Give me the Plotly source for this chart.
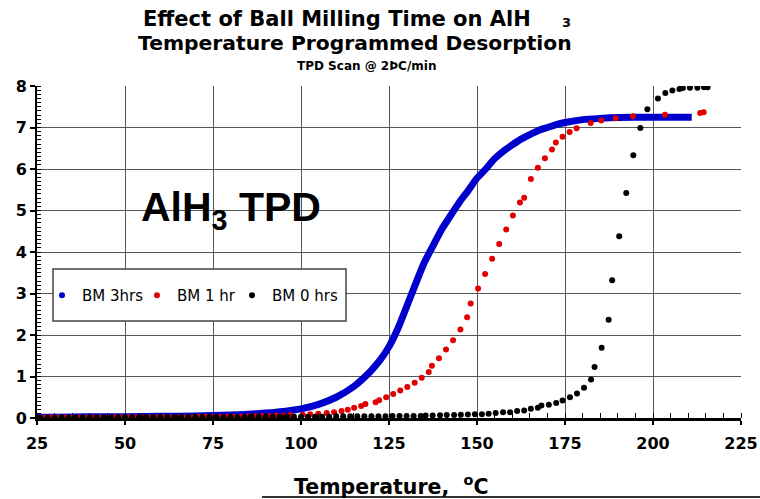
import plotly.graph_objects as go

# ---------------- data ----------------
blue_t = [25, 30, 40, 50, 60, 70, 80, 85, 90, 95, 100, 105, 110, 115, 118, 120, 122.5,
          125, 127.5, 130, 132.5, 135, 137.5, 140, 142.5, 145, 147.5, 150, 152.5, 155,
          157.5, 160, 162.5, 165, 167.5, 170, 172.5, 175, 180, 185, 190, 200, 211]
blue_v = [0.02, 0.02, 0.03, 0.03, 0.04, 0.05, 0.07, 0.09, 0.12, 0.16, 0.22, 0.33, 0.50,
          0.76, 0.98, 1.15, 1.40, 1.72, 2.15, 2.68, 3.22, 3.74, 4.15, 4.55, 4.88, 5.20,
          5.48, 5.78, 6.00, 6.25, 6.43, 6.58, 6.72, 6.83, 6.93, 7.00, 7.07, 7.12, 7.19,
          7.22, 7.24, 7.25, 7.25]

red_t = [27, 29, 31, 33, 35, 37, 39, 41, 43, 45, 47, 49, 51, 53, 55, 57, 59, 61, 63, 65,
         67, 69, 71, 73, 75, 77, 79, 81, 83, 85, 87, 89, 91, 93, 95, 97,
         100.5, 102.6, 104.9, 107.3, 109.4, 111.5, 113.3, 115.1, 117.1, 118.3, 121.2,
         122.2, 124.2, 126.2, 128.2, 130.2, 132.3, 134.3, 136.3, 137.2, 139.2, 141.2,
         143.2, 145.3, 147.2, 148.2, 150.3, 152.3, 154.3, 156.3, 158.3, 160.2, 162.2,
         163.4, 165.3, 167.3, 169.3, 171.3, 172.4, 174.3, 176.3, 178.3, 182.3, 185.3,
         189.4, 194.3, 203.4, 213.4, 214.4]
red_v = [0.01, 0.01, 0.01, 0.01, 0.01, 0.01, 0.01, 0.01, 0.01, 0.01, 0.02, 0.02, 0.02,
         0.02, 0.02, 0.02, 0.02, 0.02, 0.02, 0.02, 0.02, 0.02, 0.03, 0.03, 0.03, 0.03,
         0.03, 0.03, 0.03, 0.04, 0.04, 0.05, 0.05, 0.06, 0.06, 0.07,
         0.08, 0.09, 0.10, 0.12, 0.14, 0.17, 0.20, 0.25, 0.29, 0.34, 0.38,
         0.43, 0.50, 0.58, 0.66, 0.745, 0.85, 0.97, 1.11, 1.26, 1.44, 1.65,
         1.875, 2.13, 2.43, 2.76, 3.12, 3.47, 3.84, 4.19, 4.54, 4.88, 5.19,
         5.31, 5.76, 6.03, 6.26, 6.47, 6.64, 6.78, 6.89, 6.98, 7.11, 7.17,
         7.22, 7.27, 7.31, 7.35, 7.37]

black_t = [26, 28, 30, 32, 34, 36, 38, 40, 42, 44, 46, 48, 50, 52, 54, 56, 58,
           60, 62, 64, 66, 68, 70, 72, 74, 76, 78, 80, 82, 84, 86, 88, 90, 92, 94, 96, 98,
           100, 102, 104, 106, 108, 110, 112, 114, 116, 118, 120, 122, 124, 126, 128, 130,
           132, 134, 135.4, 137.4, 139.5, 141.4, 143.5, 145.4, 147.4, 149.4, 151.4, 153.3,
           155.3, 157.4, 159.4, 161.4, 163.4, 165.3, 167.3, 168.3, 170.4, 172.5, 174.3,
           176.4, 178.4, 180.4, 182.4, 183.4, 185.4, 187.4, 188.4, 190.4, 192.4, 194.4,
           196.4, 198.4, 201.4, 203.5, 205.5, 207.5, 208.5, 210.5, 212.6, 214.5, 215.5]
black_v = [0.00, 0.00, 0.00, 0.01, 0.00, 0.01, 0.01, 0.01, 0.01, 0.01, 0.01, 0.01, 0.01,
           0.01, 0.01, 0.02, 0.02,
           0.02, 0.02, 0.02, 0.02, 0.02, 0.02, 0.02, 0.02, 0.02, 0.02, 0.02, 0.02, 0.02,
           0.03, 0.03, 0.03, 0.03, 0.03, 0.03, 0.03,
           0.03, 0.03, 0.03, 0.03, 0.03, 0.04, 0.04, 0.04, 0.04, 0.04, 0.04, 0.04, 0.04,
           0.05, 0.05, 0.05, 0.05, 0.05, 0.06, 0.06, 0.065, 0.07, 0.075, 0.08, 0.085, 0.09,
           0.09, 0.10, 0.12, 0.14, 0.14, 0.17, 0.18, 0.22, 0.25, 0.30, 0.32, 0.36, 0.42,
           0.50, 0.59, 0.73, 0.93, 1.23, 1.69, 2.37, 3.32, 4.38, 5.42, 6.33,
           6.99, 7.44, 7.70, 7.83, 7.89, 7.93, 7.95, 7.96, 7.96, 7.97, 7.97]

series_names = ["BM 3hrs", "BM 1 hr", "BM 0 hrs"]
x_ticks = [25, 50, 75, 100, 125, 150, 175, 200, 225]
y_ticks = [0, 1, 2, 3, 4, 5, 6, 7, 8]

BLUE = "#0000CC"
RED = "#E00000"
BLACK = "#000000"

# ---------------- layout helpers (pixel -> paper) ----------------
L, R, T, B = 37, 19, 86, 81
W, H = 760, 499
PW, PH = W - L - R, H - T - B


def px(xp):
    return (xp - L) / PW


def py(yp):
    return (H - B - yp) / PH


VERD = "DejaVu Sans"

fig = go.Figure()
# legend stand-in for the dense blue series
fig.add_trace(go.Scatter(x=[None], y=[None], mode="markers", name=series_names[0],
                         marker=dict(color=BLUE, size=6), legend="legend"))
fig.add_trace(go.Scatter(x=blue_t, y=blue_v, mode="lines", showlegend=False,
                         line=dict(color=BLUE, width=7, shape="spline", smoothing=0.6)))
fig.add_trace(go.Scatter(x=red_t, y=red_v, mode="markers", name=series_names[1],
                         marker=dict(color=RED, size=6), legend="legend2"))
fig.add_trace(go.Scatter(x=black_t, y=black_v, mode="markers", name=series_names[2],
                         marker=dict(color=BLACK, size=6), legend="legend3"))

axis_font = dict(family=VERD, size=16, color="black", weight="bold")
grid = "#555555"

fig.update_xaxes(range=[25, 225], tickvals=x_ticks, ticktext=[str(v) for v in x_ticks],
                 showgrid=True, gridcolor=grid, gridwidth=1.3,
                 showline=True, linecolor="black", linewidth=2.5,
                 ticks="outside", ticklen=4, tickcolor="black", tickwidth=1.5,
                 ticklabelstandoff=5, automargin=False,
                 tickfont=axis_font, zeroline=False,
                 minor=dict(dtick=5, ticks="inside", ticklen=5, tickcolor="black",
                            tickwidth=1.2, showgrid=False))
fig.update_yaxes(range=[0, 8], tickvals=y_ticks, ticktext=[str(v) for v in y_ticks],
                 showgrid=True, gridcolor=grid, gridwidth=1.3,
                 showline=True, linecolor="black", linewidth=2,
                 ticks="outside", ticklen=5, tickcolor="black", tickwidth=1.5,
                 tickfont=axis_font, zeroline=False, automargin=False,
                 minor=dict(dtick=0.1, ticks="inside", ticklen=4, tickcolor="black",
                            tickwidth=1, showgrid=False))

ann = []
ann.append(dict(text="Effect of Ball Milling Time on AlH", x=px(337), y=py(19),
                font=dict(family=VERD, size=21, color="black", weight="bold")))
ann.append(dict(text="3", x=px(566), y=py(22),
                font=dict(family=VERD, size=13, color="black", weight="bold")))
ann.append(dict(text="Temperature Programmed Desorption", x=px(355), y=py(43),
                font=dict(family=VERD, size=20.3, color="black", weight="bold")))
ann.append(dict(text="TPD Scan @ 2ÞC/min", x=px(366), y=py(66),
                font=dict(family=VERD, size=12, color="black", weight="bold")))
ann.append(dict(text="AlH<sub>3</sub> TPD", x=px(231), y=py(210),
                font=dict(family="Liberation Sans", size=41, color="black", weight="bold")))
ann.append(dict(text="Temperature,  <sup>o</sup>C", x=px(391), y=py(485),
                font=dict(family=VERD, size=20.5, color="black", weight="bold")))
for a in ann:
    a.update(xref="paper", yref="paper", xanchor="center", yanchor="middle",
             showarrow=False)

shapes = [
    dict(type="rect", xref="paper", yref="paper", x0=px(53), x1=px(346),
         y0=py(321), y1=py(269), fillcolor="white",
         line=dict(color="#444444", width=1.5), layer="above"),
    dict(type="line", xref="paper", yref="paper", x0=px(262), x1=px(760),
         y0=py(497), y1=py(497), line=dict(color="#333333", width=2)),
]

leg_font = dict(family=VERD, size=15, color="black")


def legend_at(xp):
    return dict(orientation="h", x=px(xp), y=py(279), xanchor="left", yanchor="top",
                bgcolor="rgba(0,0,0,0)", borderwidth=0, font=leg_font)


fig.update_layout(
    width=W, height=H,
    margin=dict(l=L, r=R, t=T, b=B, autoexpand=False),
    paper_bgcolor="white", plot_bgcolor="white",
    showlegend=True,
    legend=legend_at(42),
    legend2=legend_at(137),
    legend3=legend_at(232),
    annotations=ann,
    shapes=shapes,
)

fig.write_html("out.html")
